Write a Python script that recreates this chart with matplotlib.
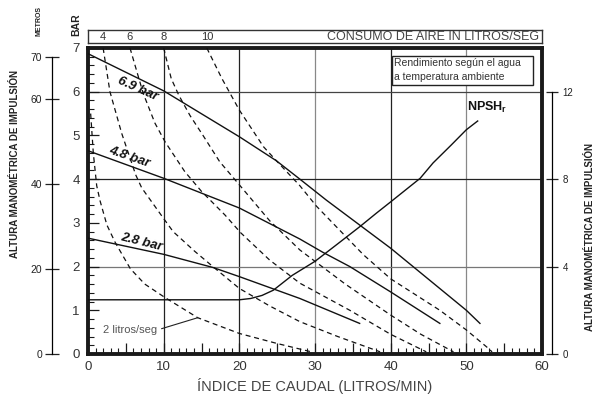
import matplotlib
matplotlib.use('Agg')
import matplotlib.pyplot as plt
from matplotlib.ticker import FixedLocator, MultipleLocator, NullFormatter
from matplotlib.patches import Rectangle

plt.rcParams['font.family'] = ['Liberation Sans', 'DejaVu Sans']
NARROW = ['Liberation Sans Narrow', 'Liberation Sans', 'DejaVu Sans']

# curvas de presión de aire: caudal (l/min) -> altura (bar)
p69_q = [0, 10, 20, 24.9, 28, 31.5, 40, 50, 51.8]
p69_h = [6.87, 6.02, 4.97, 4.42, 4.0, 3.52, 2.42, 1.0, 0.7]
p48_q = [0, 10, 20, 28, 31, 34.6, 40, 46.5]
p48_h = [4.65, 4.02, 3.34, 2.63, 2.33, 2.0, 1.42, 0.7]
p28_q = [0, 10, 16.5, 20, 28, 35.9]
p28_h = [2.65, 2.28, 1.98, 1.77, 1.27, 0.7]
pressure_labels = ['6.9 bar', '4.8 bar', '2.8 bar']

# consumo de aire (litros/seg)
c2_q = [0.35, 0.7, 1.15, 1.6, 2.5, 3.6, 5.6, 7.5, 10.1, 14.5, 20, 25, 29.5]
c2_h = [5.5, 4.6, 3.85, 3.5, 2.95, 2.55, 1.95, 1.6, 1.3, 0.83, 0.47, 0.24, 0.05]
c4_q = [2.0, 2.9, 4.45, 6.3, 7.1, 9.95, 11.25, 14.1, 16.5, 20, 24, 28, 33, 38.6]
c4_h = [7.0, 6.0, 5.05, 4.1, 3.8, 3.11, 2.8, 2.35, 2.0, 1.5, 1.1, 0.74, 0.4, 0.05]
c6_q = [5.55, 7.3, 8.85, 10.2, 12.8, 15, 18.1, 20.2, 24, 28, 34.6, 40, 44.7]
c6_h = [7.0, 5.96, 5.28, 4.85, 4.17, 3.72, 3.18, 2.77, 2.15, 1.62, 1.0, 0.45, 0.05]
c8_q = [10.0, 11.0, 12.0, 13.5, 15.2, 17.4, 20, 24, 28, 34, 40, 44, 48.3]
c8_h = [7.0, 6.3, 5.92, 5.45, 5.0, 4.4, 3.87, 3.05, 2.38, 1.6, 0.89, 0.45, 0.05]
c10_q = [15.7, 17.7, 20, 23.2, 24.9, 28, 30.2, 36.4, 40, 46.5, 50, 52.7, 53.4]
c10_h = [7.0, 6.3, 5.58, 4.74, 4.42, 3.85, 3.38, 2.27, 1.72, 1.0, 0.55, 0.16, 0.05]
air_values = [4, 6, 8, 10]

# NPSHr (escala derecha)
npsh_q = [0, 20, 21.5, 23, 24.5, 27, 30, 33, 35.9, 38.1, 40, 43.9, 45.6, 48, 50, 51.5]
npsh_h = [2.48, 2.48, 2.54, 2.68, 2.92, 3.6, 4.24, 5.04, 5.82, 6.44, 6.96, 8.04, 8.74, 9.56, 10.26, 10.66]

bar_ticks = [0, 1, 2, 3, 4, 5, 6, 7]
metros_ticks = [0, 20, 40, 60, 70]
right_ticks = [0, 4, 8, 12]
q_ticks = [0, 10, 20, 30, 40, 50, 60]

W, H = 602, 398


def px_box(x0, y0, x1, y1):
    return [x0 / W, 1 - y1 / H, (x1 - x0) / W, (y1 - y0) / H]


fig = plt.figure(figsize=(W / 100, H / 100), dpi=100)
ax = fig.add_axes(px_box(88, 48, 542, 354))
ax.set_xlim(0, 60)
ax.set_ylim(0, 7)

for s in ax.spines.values():
    s.set_linewidth(2.8)
    s.set_color('#1a1a1a')

# rejilla
for x, c in zip([10, 20, 30, 40, 50], ['#222', '#222', '#888', '#222', '#888']):
    ax.axvline(x, color=c, lw=0.9, zorder=1)
for y, c in zip([2, 4, 6], ['#777', '#222', '#444']):
    ax.axhline(y, color=c, lw=0.9, zorder=1)

ax.xaxis.set_major_locator(MultipleLocator(5))
ax.xaxis.set_minor_locator(MultipleLocator(1))
ax.set_xticklabels([str(int(v)) if v in q_ticks else '' for v in ax.get_xticks()])
ax.yaxis.set_major_locator(FixedLocator(bar_ticks))
ax.yaxis.set_minor_locator(MultipleLocator(0.2))
ax.tick_params(axis='both', which='major', direction='in', length=8, width=0.9,
               labelsize=9.5, colors='#1a1a1a', labelcolor='#333')
ax.tick_params(axis='x', which='major', pad=5)
ax.tick_params(axis='y', which='major', pad=6)
ax.tick_params(axis='both', which='minor', direction='in', length=4, width=0.8, colors='#1a1a1a')
ax.set_xlabel('ÍNDICE DE CAUDAL (LITROS/MIN)', family=NARROW, fontsize=10.5,
              color='#444', labelpad=4)

# curvas de consumo de aire
dash = (0, (4, 3))
for q, h in [(c2_q, c2_h), (c4_q, c4_h), (c6_q, c6_h), (c8_q, c8_h), (c10_q, c10_h)]:
    ax.plot(q, h, color='#111', lw=0.9, ls=dash, zorder=3)

# curvas de presión
for q, h in [(p69_q, p69_h), (p48_q, p48_h), (p28_q, p28_h)]:
    ax.plot(q, h, color='#111', lw=1.0, zorder=4)

lab_pos = [(6.6, 6.07, -24), (5.4, 4.5, -19), (7.1, 2.55, -14)]
for txt, (x, y, r) in zip(pressure_labels, lab_pos):
    ax.text(x, y, txt, rotation=r, ha='center', va='center', fontsize=9.5,
            fontweight='bold', style='italic', family=NARROW, color='#111', zorder=5)

ax.annotate('2 litros/seg', xy=(14.5, 0.83), xytext=(5.6, 0.55), fontsize=8,
            color='#555', ha='center', va='center', zorder=5,
            arrowprops=dict(arrowstyle='-', lw=0.8, color='#222', relpos=(1, 0.5),
                            shrinkA=1, shrinkB=0))

# cuadro de rendimiento
ax.add_patch(Rectangle((40.2, 6.16), 18.6, 0.66, facecolor='white',
                       edgecolor='#222', lw=1.0, zorder=5))
ax.text(40.45, 6.66, 'Rendimiento según el agua', fontsize=7.5, color='#333',
        va='center', ha='left', zorder=6)
ax.text(40.45, 6.34, 'a temperatura ambiente', fontsize=7.5, color='#333',
        va='center', ha='left', zorder=6)

# eje derecho (NPSHr)
ax_r = ax.twinx()
ax_r.set_ylim(0, 14)
for k in ['top', 'bottom', 'left']:
    ax_r.spines[k].set_visible(False)
ax_r.spines['right'].set_position(('axes', 1 + 10 / 454))
ax_r.spines['right'].set_bounds(0, 12)
ax_r.spines['right'].set_linewidth(0.9)
ax_r.yaxis.set_major_locator(FixedLocator(right_ticks))
ax_r.tick_params(axis='y', direction='inout', length=9, width=0.9, labelsize=7,
                 colors='#222', pad=3)
ax_r.plot(npsh_q, npsh_h, color='#111', lw=1.0, zorder=4)
ax_r.text(52.7, 11.26, r'NPSH$_\mathregular{r}$', fontsize=9, fontweight='bold',
          family=NARROW, ha='center', va='center', color='#111')

# eje izquierdo en metros
ax_m = ax.twinx()
ax_m.set_ylim(0, 7 * 10.3)
for k in ['top', 'bottom', 'right']:
    ax_m.spines[k].set_visible(False)
ax_m.spines['left'].set_visible(True)
ax_m.spines['left'].set_position(('axes', -36 / 454))
ax_m.spines['left'].set_bounds(0, 70)
ax_m.spines['left'].set_linewidth(0.9)
ax_m.yaxis.set_ticks_position('left')
ax_m.yaxis.set_major_locator(FixedLocator(metros_ticks))
ax_m.tick_params(axis='y', direction='inout', length=10, width=0.9, labelsize=7.5,
                 colors='#222', pad=2)

# cuadro superior de consumo de aire
ax_t = fig.add_axes(px_box(88, 30, 542, 43))
ax_t.set_xlim(0, 60)
ax_t.set_ylim(0, 1)
ax_t.set_xticks([])
ax_t.set_yticks([])
for s in ax_t.spines.values():
    s.set_linewidth(1.0)
    s.set_color('#333')
for v, q in zip(air_values, [c4_q[0], c6_q[0], c8_q[0], c10_q[0]]):
    ax_t.text(q, 0.45, str(v), ha='center', va='center', fontsize=8, color='#333')
ax_t.text(59.6, 0.45, 'CONSUMO DE AIRE IN LITROS/SEG', ha='right', va='center',
          fontsize=9, family=NARROW, color='#444')

# rótulos de ejes
fig.text(15 / W, 1 - 164 / H, 'ALTURA MANOMÉTRICA DE IMPULSIÓN', rotation=90,
         ha='center', va='center', fontsize=7, fontweight='bold', family=NARROW, color='#222')
fig.text(590 / W, 1 - 237 / H, 'ALTURA MANOMÉTRICA DE IMPULSIÓN', rotation=90,
         ha='center', va='center', fontsize=7, fontweight='bold', family=NARROW, color='#222')
fig.text(39 / W, 1 - 21 / H, 'METROS', rotation=90, ha='center', va='center',
         fontsize=5, fontweight='bold', family=NARROW, color='#222')
fig.text(76 / W, 1 - 25 / H, 'BAR', rotation=90, ha='center', va='center',
         fontsize=7.5, fontweight='bold', family=NARROW, color='#222')

fig.savefig('out.png', dpi=100)
